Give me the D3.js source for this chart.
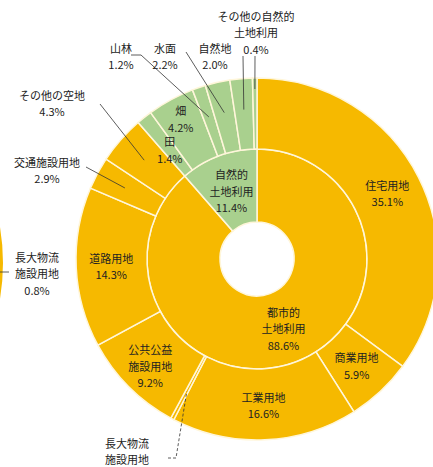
<!DOCTYPE html>
<html>
<head>
<meta charset="utf-8">
<script src="https://cdn.jsdelivr.net/npm/d3@7"></script>
<style>
  body { margin: 0; background: #fff; }
  text { font-family: "Noto Sans CJK JP", sans-serif; fill: #222; }
</style>
</head>
<body>
<div id="chart"></div>
<script>
// inner ring: urban vs natural land use
var innerNames = ["都市的\n土地利用", "自然的\n土地利用"];
var innerValues = [88.6, 11.4];

// outer ring: breakdown (clockwise from 12 o'clock)
var outerNames = ["住宅用地", "商業用地", "工業用地", "長大物流\n施設用地", "公共公益\n施設用地",
    "道路用地", "交通施設用地", "その他の空地", "田", "畑", "山林", "水面", "自然地",
    "その他の自然的\n土地利用"];
var outerValues = [35.1, 5.9, 16.6, 0.3, 9.2, 14.3, 2.9, 4.3, 1.4, 4.2, 1.2, 2.2, 2.0, 0.4];
var outerGroup = [0, 0, 0, 0, 0, 0, 0, 0, 1, 1, 1, 1, 1, 1];

// neighbouring chart, cut off at the left edge
var neighborNames = ["長大物流\n施設用地"];
var neighborValues = [0.8];

var svgWidth = 433;
var svgHeight = 467;
var cx = 257, cy = 259;
var rHole = 37, rMid = 110, rOuter = 181;
var lineH = 16.5;

var colors = ["#F6B900", "#A9D08E"];
var sepColor = "#FFF6DA";
var fmt = function(v) { return d3.format(".1f")(v) + "%"; };

var svg = d3.select("#chart")
    .append("svg")
    .attr("width", svgWidth)
    .attr("height", svgHeight);

var pie = d3.pie().sort(null).value(d => d);

var innerArc = d3.arc().innerRadius(rHole).outerRadius(rMid);
var outerArc = d3.arc().innerRadius(rMid).outerRadius(rOuter);

var g = svg.append("g").attr("transform", `translate(${cx}, ${cy})`);

var innerData = pie(innerValues);
var outerData = pie(outerValues);

g.selectAll("path.inner")
    .data(innerData)
    .join("path")
    .attr("class", "inner")
    .attr("d", innerArc)
    .attr("fill", (d, i) => colors[i])
    .attr("stroke", sepColor)
    .attr("stroke-width", 1.5);

g.selectAll("path.outer")
    .data(outerData)
    .join("path")
    .attr("class", "outer")
    .attr("d", outerArc)
    .attr("fill", (d, i) => colors[outerGroup[i]])
    .attr("stroke", sepColor)
    .attr("stroke-width", 1.5);

// point on a slice's mid angle at radius r (chart coords)
function midPoint(d, r) {
    var a = (d.startAngle + d.endAngle) / 2;
    return [cx + r * Math.sin(a), cy - r * Math.cos(a)];
}

// multi-line label centered at (x, y)
function drawLabel(x, y, name, value, noPct) {
    var lines = name.split("\n");
    if (!noPct) lines.push(fmt(value));
    var t = svg.append("text")
        .attr("text-anchor", "middle")
        .attr("font-size", 11);
    lines.forEach((s, i) => {
        t.append("tspan")
            .attr("x", x)
            .attr("y", y + (i - (lines.length - 1) / 2) * lineH)
            .attr("dominant-baseline", "central")
            .text(s);
    });
}

// inner labels (urban one is placed lower right of the hole)
var innerLayout = [{angle: 159, r: 74}, {r: 73}];
innerData.forEach((d, i) => {
    var lay = innerLayout[i];
    var p;
    if (lay.angle !== undefined) {
        var a = lay.angle * Math.PI / 180;
        p = [cx + lay.r * Math.sin(a), cy - lay.r * Math.cos(a)];
    } else {
        p = midPoint(d, lay.r);
    }
    drawLabel(p[0], p[1], innerNames[i], innerValues[i]);
});

// outer labels: inside the ring or outside with a leader line
// (the bottom one's percentage falls below the picture's edge, so it is left off)
var outsideLayout = {
    "長大物流\n施設用地": {x: 127, y: 451, pts: [[168, 458], [176, 458]], r: 150, dash: true, noPct: true},
    "交通施設用地": {x: 47, y: 170, pts: [[86, 167]], r: 150},
    "その他の空地": {x: 52, y: 103, pts: [[100, 104]], r: 150},
    "山林": {x: 121, y: 56, pts: [[131, 55], [141, 55]], r: 150},
    "水面": {x: 165, y: 56, pts: [[186, 52]], r: 150},
    "自然地": {x: 215, y: 56, pts: [[243, 56]], r: 150},
    "その他の自然的\n土地利用": {x: 256, y: 32, pts: [[255, 56]], r: 170}
};
var insideRadius = {"公共公益\n施設用地": 151, "畑": 160, "田": 140};

outerData.forEach((d, i) => {
    var name = outerNames[i];
    var lay = outsideLayout[name];
    if (lay) {
        var end = midPoint(d, lay.r);
        var pts = lay.pts.concat([end]);
        svg.append("path")
            .attr("d", d3.line()(pts))
            .attr("fill", "none")
            .attr("stroke", "#333")
            .attr("stroke-width", 0.8)
            .attr("stroke-dasharray", lay.dash ? "3,2" : null);
        drawLabel(lay.x, lay.y, name, outerValues[i], lay.noPct);
    } else {
        var p = midPoint(d, insideRadius[name] || 146);
        drawLabel(p[0], p[1], name, outerValues[i]);
    }
});

// neighbouring chart sliver at the left edge
var nArc = d3.arc().innerRadius(150).outerRadius(217);
svg.append("path")
    .attr("transform", "translate(-214, 263)")
    .attr("d", nArc({startAngle: 0, endAngle: 2 * Math.PI}))
    .attr("fill", colors[0]);
svg.append("line")
    .attr("x1", 0).attr("x2", 9)
    .attr("y1", 272).attr("y2", 272)
    .attr("stroke", "#333")
    .attr("stroke-width", 0.8);
drawLabel(37, 273, neighborNames[0], neighborValues[0]);
</script>
</body>
</html>
